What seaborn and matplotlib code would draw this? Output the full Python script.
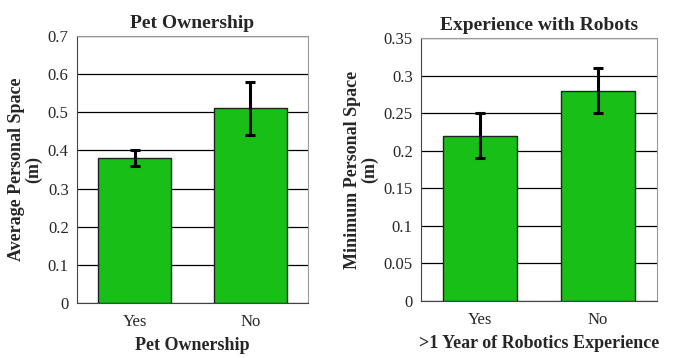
import matplotlib
matplotlib.use('Agg')
import matplotlib.pyplot as plt
import numpy as np
import pandas as pd
import seaborn as sns

# Values.
groups = ['Yes', 'No']
pet_means = [0.38, 0.51]
pet_err = [0.02, 0.07]
robot_means = [0.22, 0.28]
robot_err = [0.03, 0.03]

sns.set_style('white')
plt.rcParams['font.family'] = ['Liberation Serif', 'DejaVu Serif']

bar_color = '#17bf17'
fig = plt.figure(figsize=(6.73, 3.58), dpi=100)
ax1 = fig.add_axes([0.1144, 0.1536, 0.3433, 0.7458])
ax2 = fig.add_axes([0.6256, 0.1592, 0.3507, 0.7347])

panels = [
    (ax1, pet_means, pet_err, 'Pet Ownership', 'Average Personal Space\n(m)',
     'Pet Ownership', np.arange(0, 0.71, 0.1), 0.7, '{:.1f}'),
    (ax2, robot_means, robot_err, 'Experience with Robots', 'Minimum Personal Space\n(m)',
     '>1 Year of Robotics Experience', np.arange(0, 0.351, 0.05), 0.35, None),
]

for ax, means, errs, title, ylab, xlab, yticks, ymax, fmt in panels:
    df = pd.DataFrame({'group': groups, 'value': means})
    sns.barplot(data=df, x='group', y='value', color=bar_color, width=0.63,
                errorbar=None, edgecolor='#222222', linewidth=1.0,
                saturation=1, ax=ax, zorder=3)
    ax.errorbar(range(len(groups)), means, yerr=errs, fmt='none', ecolor='black',
                elinewidth=2.2, capsize=3.5, capthick=2.2, zorder=4)
    ax.set_xlim(-0.5, len(groups) - 0.5)
    ax.set_ylim(0, ymax)
    ax.set_yticks(yticks)
    if fmt:
        ax.set_yticklabels([fmt.format(t) if t > 0 else '0' for t in yticks])
    else:
        ax.set_yticklabels(['0'] + ['{:g}'.format(round(t, 2)) for t in yticks[1:]])
    ax.set_xticks(np.arange(-0.5, len(groups)), minor=True)
    ax.tick_params(axis='x', which='major', length=0, labelsize=12, pad=8)
    ax.tick_params(axis='x', which='minor', length=4, color='#444444', direction='out')
    ax.tick_params(axis='y', length=4, color='#444444', direction='out', labelsize=12, pad=2)
    ax.yaxis.grid(True, color='black', linewidth=0.9, zorder=0)
    ax.set_axisbelow(True)
    for side in ['top', 'right']:
        ax.spines[side].set_color('#999999')
    for side in ['left', 'bottom']:
        ax.spines[side].set_color('#444444')
    ax.set_title(title, fontsize=14, fontweight='bold', pad=6)
    ax.set_ylabel(ylab, fontsize=13, fontweight='bold', linespacing=1.0, labelpad=4)
    ax.set_xlabel(xlab, fontsize=13, fontweight='bold', labelpad=5)

fig.savefig('out.png', dpi=100)
